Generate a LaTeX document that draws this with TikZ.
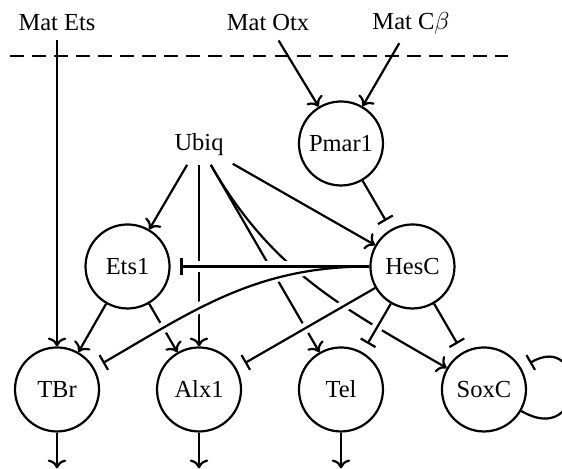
\documentclass[tikz,border=0pt]{standalone}
\usepackage{fontspec}
\setmainfont{Liberation Serif}
\usetikzlibrary{arrows.meta}

\begin{document}
\begin{tikzpicture}[line width=0.9pt,
  gene/.style={circle,draw,minimum size=34.3pt,inner sep=0pt},
  act/.style={->},
  inh/.style={-{Bar[width=7pt]},shorten >=4pt},
  gap/.style={draw=white,line width=4.5pt,shorten <=6pt,shorten >=6pt}]
\useasboundingbox (0,0) rectangle (8.065,-6.730);

\node (matets) at (0.818,-0.330) {Mat Ets};
\node (matotx) at (3.846,-0.330) {Mat Otx};
\node (matcb) at (5.898,-0.330) {Mat C$\beta$};
\draw[dash pattern=on 5.7pt off 3.3pt] (0.144,-0.800) -- (7.290,-0.800);

\node (ubiq) at (2.856,-2.074) {Ubiq};
\node[gene] (pmar1) at (4.893,-2.059) {Pmar1};
\node[gene] (ets1) at (1.830,-3.824) {Ets1};
\node[gene] (hesc) at (5.919,-3.824) {HesC};
\node[gene] (tbr) at (0.818,-5.589) {TBr};
\node[gene] (alx1) at (2.856,-5.589) {Alx1};
\node[gene] (tel) at (4.893,-5.589) {Tel};
\node[gene] (soxc) at (6.945,-5.589) {SoxC};

\coordinate (tbrout) at (0.818,-6.72);
\coordinate (alx1out) at (2.856,-6.72);
\coordinate (telout) at (4.893,-6.72);

\path[act] (matets) edge (tbr);
\path[act] (matotx) edge (pmar1);
\path[act] (matcb) edge (pmar1);

\path[act] (ubiq) edge (ets1);
\path[act] (ubiq) edge (alx1);
\path[act] (ubiq) edge (tel);
\path[act] (ubiq) edge[out=-60,in=150] (soxc);
\path[act] (ubiq) edge (hesc);
\path[act] (ets1) edge (tbr);
\path[act] (ets1) edge (alx1);

\draw[gap] (hesc) -- (ets1);
\draw[gap] (hesc.west) to[out=180,in=30] (tbr);
\draw[gap] (hesc) -- (alx1);
\draw[gap] (hesc) -- (tel);
\path[inh] (hesc) edge (ets1);
\path[inh] (hesc.west) edge[out=180,in=30] (tbr);
\path[inh] (hesc) edge (alx1);
\path[inh] (hesc) edge (tel);
\path[inh] (hesc) edge (soxc);
\path[inh] (pmar1) edge (hesc);
\path[inh] (soxc) edge[out=-30,in=30,distance=31pt] (soxc);

\path[act] (tbr) edge (tbrout);
\path[act] (alx1) edge (alx1out);
\path[act] (tel) edge (telout);
\end{tikzpicture}
\end{document}
